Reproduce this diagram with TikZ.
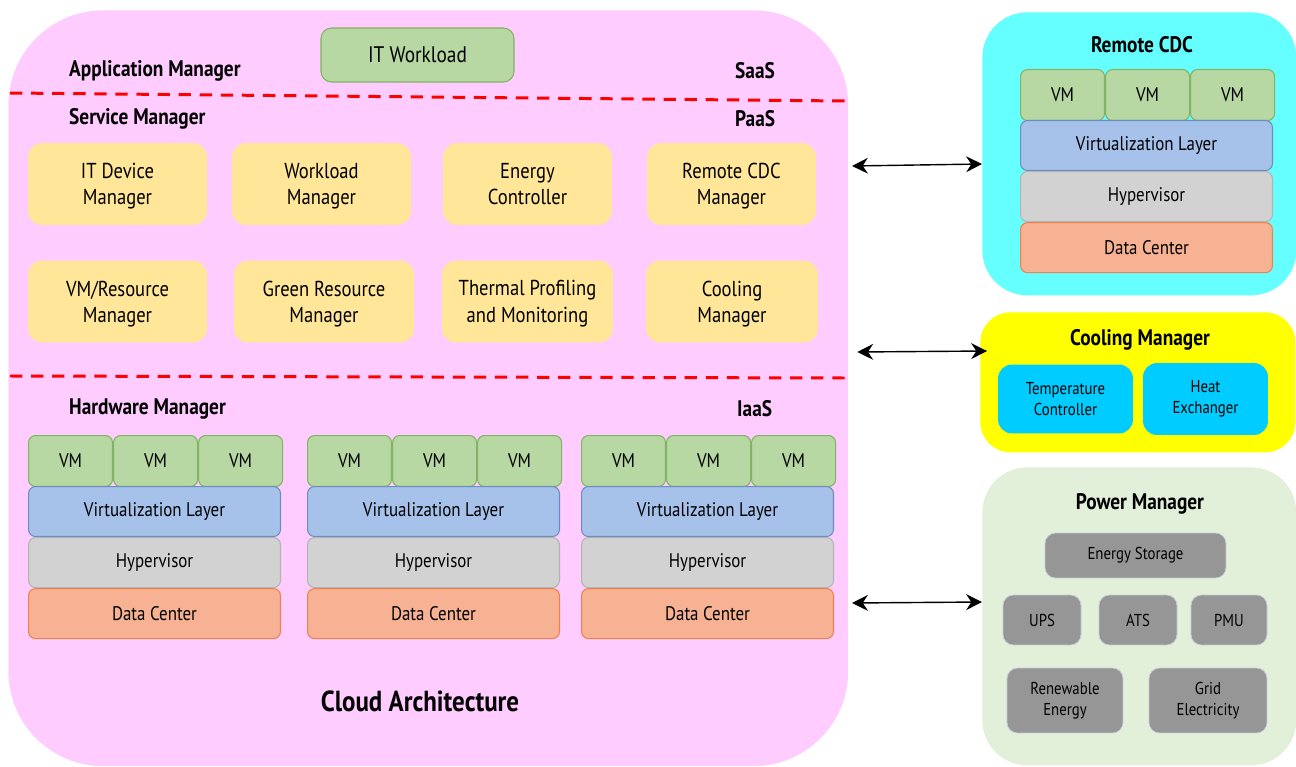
\documentclass[tikz,border=0pt]{standalone}
\usepackage{fontspec}
\setmainfont[FakeStretch=0.86]{PT Sans}
\usetikzlibrary{positioning,arrows.meta}

\definecolor{cloudpink}{RGB}{255,204,255}
\definecolor{cdccyan}{RGB}{102,255,255}
\definecolor{coolyellow}{RGB}{255,255,0}
\definecolor{powergreen}{RGB}{226,239,217}
\definecolor{cardyellow}{RGB}{255,230,153}
\definecolor{vmfill}{RGB}{183,215,163}
\definecolor{vmline}{RGB}{130,179,102}
\definecolor{vlfill}{RGB}{166,194,234}
\definecolor{vlline}{RGB}{108,142,191}
\definecolor{hypfill}{RGB}{210,210,210}
\definecolor{hypline}{RGB}{180,180,180}
\definecolor{dcfill}{RGB}{246,178,146}
\definecolor{dcline}{RGB}{236,130,82}
\definecolor{tcblue}{RGB}{0,204,255}
\definecolor{psgray}{RGB}{150,150,150}
\definecolor{psline}{RGB}{200,204,224}
\definecolor{divred}{RGB}{255,0,0}

\tikzset{
  region/.style={draw=none, inner sep=0pt},
  heading/.style={font=\fontsize{12.8}{14}\selectfont\bfseries, anchor=west},
  title/.style={font=\fontsize{12.8}{14}\selectfont\bfseries},
  card/.style={fill=cardyellow, rounded corners=8pt, inner sep=0pt, align=center,
    minimum height=1.64cm, text depth=-4pt, font=\fontsize{12.3}{15}\selectfont},
  slab/.style={rounded corners=4pt, inner sep=0pt, line width=0.6pt,
    minimum width=5.04cm, minimum height=1cm, font=\fontsize{11.2}{13}\selectfont},
  vm/.style={slab, fill=vmfill, draw=vmline, minimum width=1.68cm, minimum height=1.02cm},
  vlayer/.style={slab, fill=vlfill, draw=vlline},
  hyper/.style={slab, fill=hypfill, draw=hypline},
  dcenter/.style={slab, fill=dcfill, draw=dcline},
  coolpart/.style={fill=tcblue, rounded corners=8pt, inner sep=0pt, align=center,
    minimum height=1.38cm, font=\fontsize{9.8}{12}\selectfont},
  powerpart/.style={fill=psgray, draw=psline, rounded corners=6pt, inner sep=0pt, align=center,
    font=\fontsize{9.8}{12}\selectfont},
  divider/.style={divred, line width=1.7pt, dash pattern=on 7pt off 5pt},
  link/.style={{Stealth[length=9pt,width=9pt]}-{Stealth[length=9pt,width=9pt]}, line width=0.8pt}
}

\begin{document}
\begin{tikzpicture}[x=0.02cm,y=-0.02cm]
  \useasboundingbox (0,0) rectangle (1296,767);

  % cloud architecture
  \node[region, fill=cloudpink, rounded corners=1.9cm, minimum width=16.8cm, minimum height=15.12cm,
    anchor=north west] (cloud) at (8,10) {};
  \node[vm, minimum width=3.86cm, minimum height=1.08cm, rounded corners=6pt,
    font=\fontsize{12.8}{14}\selectfont] (workload) at (417.5,55) {IT Workload};
  \node[heading] (appmgr) at (63,71) {Application Manager};
  \node[heading] (saas) at (729,71) {SaaS};
  \draw[divider] (10,93) -- (845,101);
  \node[heading] (svcmgr) at (63,119) {Service Manager};
  \node[heading] (paas) at (729,119) {PaaS};

  \node[card, minimum width=3.58cm] (itdev) at (117.5,184) {IT Device\\Manager};
  \node[card, minimum width=3.58cm] (wlmgr) at (321.5,184) {Workload\\Manager};
  \node[card, minimum width=3.38cm] (enctl) at (527.5,184) {Energy\\Controller};
  \node[card, minimum width=3.38cm] (rcdcmgr) at (731.5,184) {Remote CDC\\Manager};
  \node[card, minimum width=3.58cm] (vmres) at (117.5,301.5) {VM/Resource\\Manager};
  \node[card, minimum width=3.6cm] (greenres) at (324,301.5) {Green Resource\\Manager};
  \node[card, minimum width=3.42cm] (thermal) at (527.5,301.5) {Thermal Profiling\\and Monitoring};
  \node[card, minimum width=3.44cm] (coolmgr) at (732,301.5) {Cooling\\Manager};

  \draw[divider] (10,376) -- (845,378);
  \node[heading] (hwmgr) at (63,409) {Hardware Manager};
  \node[heading] (iaas) at (731,409) {IaaS};

  \node[title, font=\fontsize{16.5}{18}\selectfont\bfseries] (cloudlbl) at (420,701) {Cloud Architecture};

  % remote cdc, cooling and power
  \node[region, fill=cdccyan, rounded corners=0.9cm, minimum width=6.28cm, minimum height=5.66cm,
    anchor=north west] (rcdc) at (982,12) {};
  \node[title] (rcdclbl) at (1142,45) {Remote CDC};

  \node[region, fill=coolyellow, rounded corners=0.6cm, minimum width=6.3cm, minimum height=2.8cm,
    anchor=north west] (cool) at (980,312) {};
  \node[title] (coollbl) at (1140,340) {Cooling Manager};
  \node[coolpart, minimum width=2.7cm] (tempctl) at (1065.5,399) {Temperature\\Controller};
  \node[coolpart, minimum width=2.5cm, minimum height=1.44cm] (heatex) at (1205.5,399) {Heat\\Exchanger};

  \node[region, fill=powergreen, rounded corners=0.9cm, minimum width=6.28cm, minimum height=5.96cm,
    anchor=north west] (power) at (982,467) {};
  \node[title] (powerlbl) at (1140,504) {Power Manager};
  \node[powerpart, minimum width=3.62cm, minimum height=0.9cm] (storage) at (1135.5,555.5) {Energy Storage};
  \node[powerpart, minimum width=1.56cm, minimum height=1cm] (ups) at (1042,620) {UPS};
  \node[powerpart, minimum width=1.56cm, minimum height=1cm] (ats) at (1138,620) {ATS};
  \node[powerpart, minimum width=1.52cm, minimum height=1cm] (pmu) at (1229,620) {PMU};
  \node[powerpart, minimum width=2.32cm, minimum height=1.3cm] (renew) at (1065,700.5) {Renewable\\Energy};
  \node[powerpart, minimum width=2.36cm, minimum height=1.3cm] (grid) at (1208,700.5) {Grid\\Electricity};

  % server stacks
  \foreach \s/\x/\y in {hwa/28/435, hwb/307/435, hwc/581/435, rs/1020/69} {
    \node[vm, anchor=north west] (\s-vm1) at (\x,\y) {VM};
    \node[vm, right=0pt of \s-vm1] (\s-vm2) {VM};
    \node[vm, right=0pt of \s-vm2] (\s-vm3) {VM};
    \node[vlayer, anchor=north west] (\s-vl) at (\x,\y+51) {Virtualization Layer};
    \node[hyper, below=0pt of \s-vl] (\s-hyp) {Hypervisor};
    \node[dcenter, below=0pt of \s-hyp] (\s-dc) {Data Center};
  }

  % links
  \draw[link] ([xshift=2pt]cloud.east |- 0,166) -- (rcdc.west |- 0,164);
  \draw[link] ([xshift=5pt]cloud.east |- 0,352) -- ([xshift=4pt]cool.west |- 0,351);
  \draw[link] ([xshift=2pt]cloud.east |- 0,603) -- (power.west |- 0,602);
\end{tikzpicture}
\end{document}
